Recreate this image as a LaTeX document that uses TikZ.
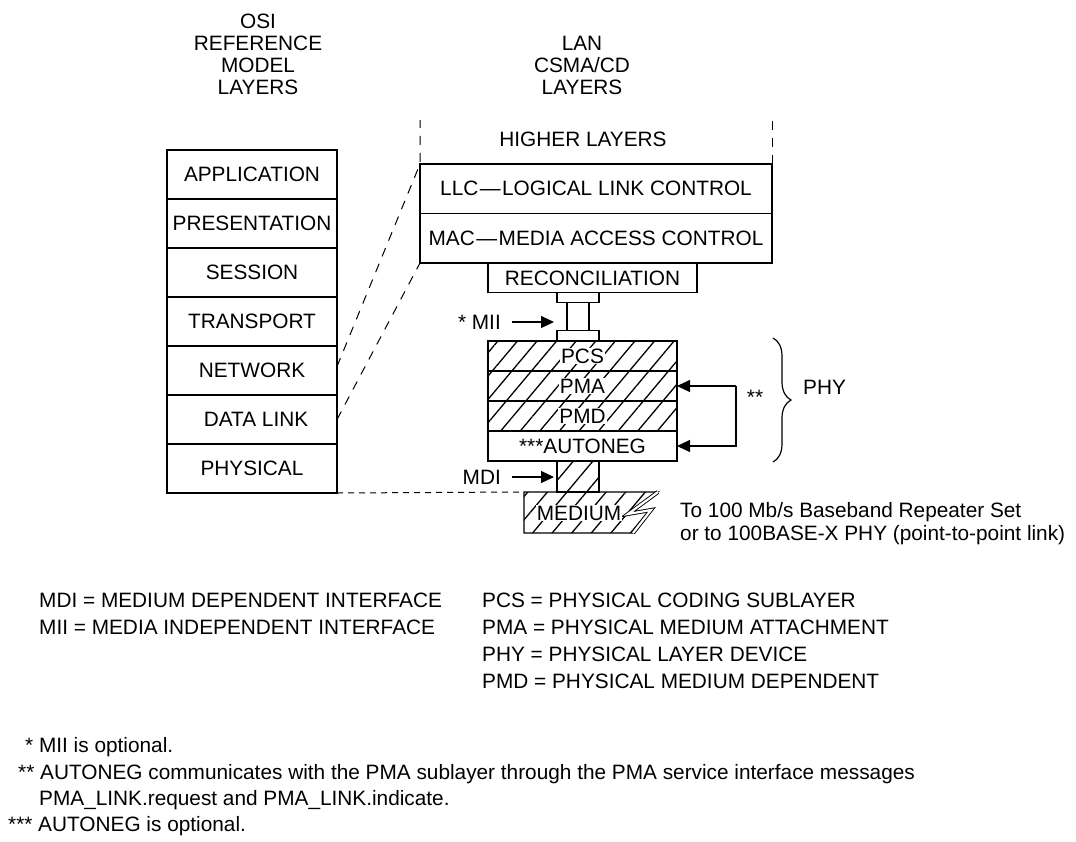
\documentclass[tikz,border=0pt]{standalone}
\usepackage{fontspec}
\setmainfont{Liberation Sans}
\usetikzlibrary{positioning,arrows.meta,patterns.meta,decorations.pathreplacing}

\begin{document}
\begin{tikzpicture}[
    x=1pt, y=-1pt,
    font=\fontsize{20.8}{24}\selectfont,
    osibox/.style={draw, line width=1.2pt, inner sep=0pt, outer sep=0pt, minimum width=170pt, minimum height=49pt},
    lanbox/.style={draw, line width=1.2pt, inner sep=0pt, outer sep=0pt, minimum width=352pt, minimum height=49.5pt},
    phybox/.style={draw, line width=1.2pt, inner sep=0pt, outer sep=0pt, minimum width=189pt, minimum height=30pt},
    pad/.style={draw, line width=1.2pt, inner sep=0pt, outer sep=0pt, minimum width=42pt, minimum height=10pt},
    hatched/.style={pattern={Lines[angle=50,distance=15pt,line width=1.3pt]}},
    tag/.style={fill=white, inner sep=1pt},
    txt/.style={inner sep=0pt, anchor=base west},
    arr/.style={-{Triangle[length=13pt,width=12pt]}, line width=1.2pt},
    dashline/.style={line width=1pt, dash pattern=on 9pt off 8pt}
]
\useasboundingbox (0,0) rectangle (1076,841);

\node[align=center, font=\fontsize{20.8}{22}\selectfont] (osihead) at (258,54) {OSI\\REFERENCE\\MODEL\\LAYERS};
\node[align=center, font=\fontsize{20.8}{22}\selectfont] (lanhead) at (582,65) {LAN\\CSMA/CD\\LAYERS};

% OSI reference model
\node[osibox] (app) at (252,174.5) {APPLICATION};
\node[osibox, below=0pt of app] (pres) {PRESENTATION};
\node[osibox, below=0pt of pres] (sess) {SESSION};
\node[osibox, below=0pt of sess] (trans) {TRANSPORT};
\node[osibox, below=0pt of trans] (net) {NETWORK};
\node[osibox, below=0pt of net] (dl) {\hspace*{8pt}DATA LINK};
\node[osibox, below=0pt of dl] (phys) {PHYSICAL};

% LAN CSMA/CD layers
\node (higher) at (583,139) {HIGHER LAYERS};
\node[lanbox] (llc) at (596,188.75) {LLC\kern1.5pt—\kern1.5pt LOGICAL LINK CONTROL};
\node[lanbox, below=0pt of llc] (mac) {MAC\kern1.5pt—\kern1.5pt MEDIA ACCESS CONTROL};
\node[phybox, minimum width=209pt, minimum height=29pt, anchor=north] (recon) at (592.5,263.5) {RECONCILIATION};

\node[pad, anchor=north] (miitop) at (578,292.5) {};
\node[draw, line width=1.2pt, inner sep=0pt, outer sep=0pt, minimum width=22pt, minimum height=28pt, anchor=north] (miistem) at (miitop.south) {};
\node[pad, anchor=north] (miibot) at (miistem.south) {};

\node[phybox, hatched, anchor=north] (pcs) at (582.5,341) {};
\node[phybox, hatched, below=0pt of pcs] (pma) {};
\node[phybox, hatched, below=0pt of pma] (pmd) {};
\node[phybox, below=0pt of pmd] (autoneg) {***AUTONEG};
\node[tag] (pcstxt) at (pcs) {PCS};
\node[tag] (pmatxt) at (pma) {PMA};
\node[tag] (pmdtxt) at (pmd) {PMD};

\node[draw, hatched, line width=1.2pt, inner sep=0pt, outer sep=0pt, minimum width=42pt, minimum height=31pt, anchor=north] (mdi) at (578,461) {};

% medium
\coordinate (medtl) at (524,492);
\draw[line width=1.2pt, hatched] (medtl) -- (658,492) -- (628,514) -- (651,510) -- (633,533) -- (524,533) -- cycle;
\draw[line width=0.9pt, double, double distance=2.2pt] (658,492) -- (628,514) -- (651,510) -- (633,533);
\node[tag] (medtxt) at (579,513) {MEDIUM};

\draw[dashline] ([yshift=4pt]net.east) -- (llc.north west) -- ++(0,-44);
\draw[dashline] (dl.east) -- (mac.south west);
\draw[dashline] (llc.north east) -- ++(0,-49);
\draw[line width=1pt, dash pattern=on 6pt off 5pt] (phys.south east) -- (medtl);

\node[inner sep=0pt, anchor=east] (miilbl) at (501,322) {* MII};
\draw[arr, shorten >=3pt] ([xshift=11pt]miilbl.east) -- (miilbl.east -| miitop.west);
\node[inner sep=0pt, anchor=east] (mdilbl) at (501,477) {MDI};
\draw[arr, shorten >=3pt] ([xshift=11pt]mdilbl.east) -- (mdilbl.east -| mdi.west);

\draw[arr] (pma.east) ++(59pt,0) coordinate (fb) -- (pma.east);
\draw[arr] (fb) |- (autoneg.east);
\node[inner sep=0pt, anchor=base] (fbnote) at (755,404) {**};

\coordinate (phytop) at (773,338);
\coordinate (phybot) at (773,462);
\draw[line width=1.2pt, decorate, decoration={brace, amplitude=18pt}] (phytop) -- (phybot);
\node[inner sep=0pt, anchor=west] (phylbl) at (803,387) {PHY};

\node[txt] (repline) at (680,517) {To 100 Mb/s Baseband Repeater Set};
\node[txt] (p2pline) at (680,540) {or to 100BASE-X PHY (point-to-point link)};

% legend
\node[txt] (mdidef) at (39,607) {MDI = MEDIUM DEPENDENT INTERFACE};
\node[txt] (miidef) at (39,634) {MII = MEDIA INDEPENDENT INTERFACE};
\node[txt] (pcsdef) at (482,607) {PCS = PHYSICAL CODING SUBLAYER};
\node[txt] (pmadef) at (482,634) {PMA = PHYSICAL MEDIUM ATTACHMENT};
\node[txt] (phydef) at (482,661) {PHY = PHYSICAL LAYER DEVICE};
\node[txt] (pmddef) at (482,688) {PMD = PHYSICAL MEDIUM DEPENDENT};

\node[txt] (note1) at (25,752) {* MII is optional.};
\node[txt] (note2) at (18,779) {** AUTONEG communicates with the PMA sublayer through the PMA service interface messages};
\node[txt] (note2b) at (39,805) {PMA\_LINK.request and PMA\_LINK.indicate.};
\node[txt] (note3) at (8,831) {*** AUTONEG is optional.};
\end{tikzpicture}
\end{document}
